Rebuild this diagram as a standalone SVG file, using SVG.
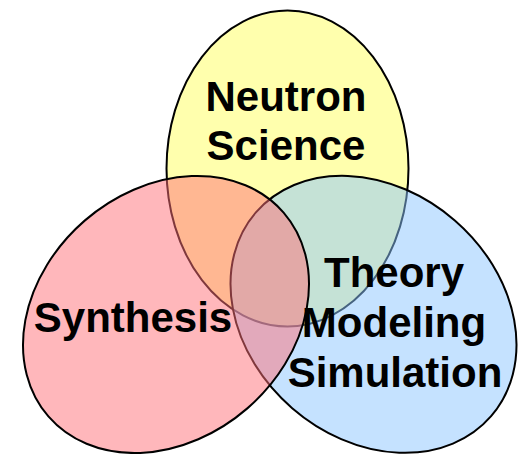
<svg xmlns="http://www.w3.org/2000/svg" width="527" height="454" viewBox="0 0 527 454">
<style>
.lbl{font-family:"Liberation Sans",Arial,sans-serif;font-weight:bold;font-size:42px;fill:#000;text-anchor:middle}
.set{stroke:#000;stroke-width:2}
</style>
<rect width="527" height="454" fill="#fff"/>
<g id="neutron">
<ellipse class="set" cx="287.5" cy="168.5" rx="121" ry="158" fill="#ffffad"/>
</g>
<g id="theory">
<ellipse class="set" cx="373.5" cy="314.3" rx="155.6" ry="124.2" transform="rotate(40.9 373.5 314.3)" fill="rgb(140,197,255)" fill-opacity="0.5"/>
</g>
<g id="synthesis">
<ellipse class="set" cx="166" cy="314.5" rx="155.6" ry="124.2" transform="rotate(-40.9 166 314.5)" fill="rgb(255,112,120)" fill-opacity="0.5"/>
</g>
<g id="connectors"></g>
<g id="labels">
<text class="lbl" x="286" y="110.5">Neutron</text>
<text class="lbl" x="286" y="160">Science</text>
<text class="lbl" x="133" y="332">Synthesis</text>
<text class="lbl" x="394" y="287">Theory</text>
<text class="lbl" x="394" y="337">Modeling</text>
<text class="lbl" x="395" y="387">Simulation</text>
</g>
</svg>
